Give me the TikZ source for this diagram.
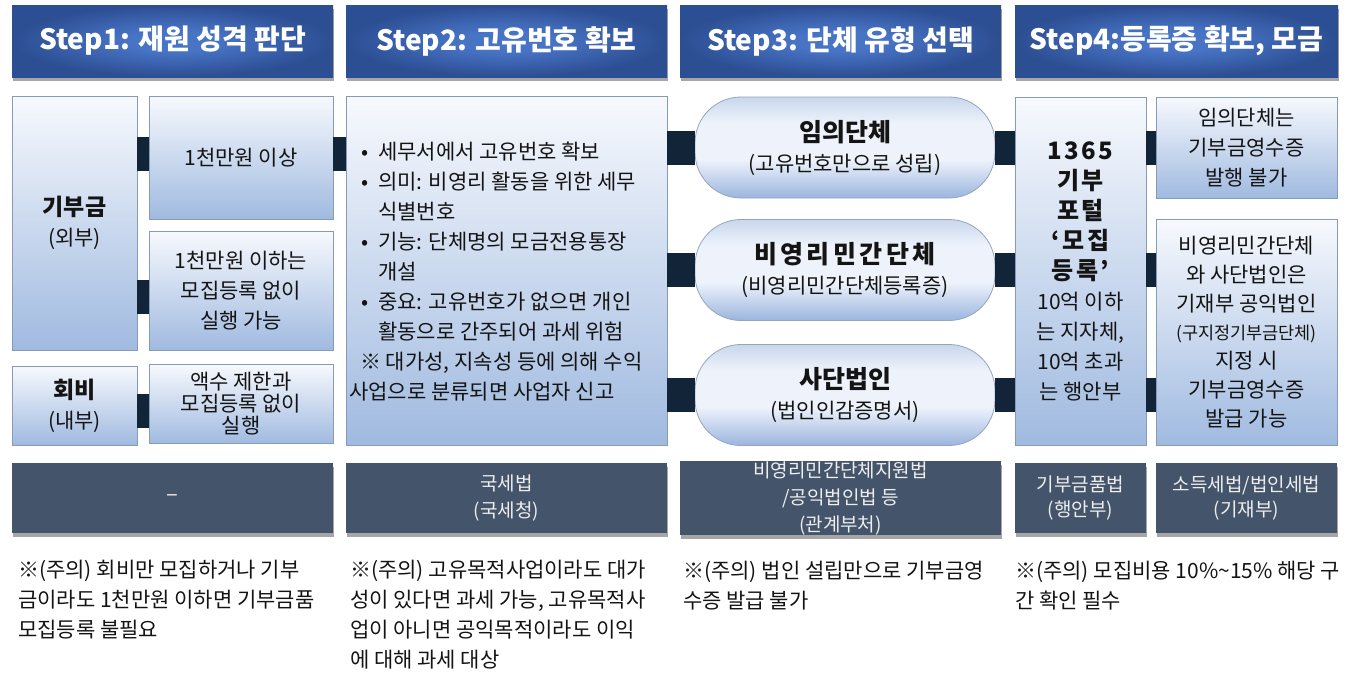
\documentclass[tikz,border=0pt]{standalone}
\usepackage{fontspec}
\setmainfont{Noto Sans CJK KR}
\usetikzlibrary{shadows}
\definecolor{hdrC}{RGB}{72,116,198}
\definecolor{hdrE}{RGB}{44,78,146}
\definecolor{boxT}{RGB}{247,249,253}
\definecolor{boxB}{RGB}{160,186,224}
\definecolor{boxBd}{RGB}{135,155,185}
\definecolor{pillT}{RGB}{200,215,237}
\definecolor{pillM}{RGB}{238,243,251}
\definecolor{pillB}{RGB}{155,181,222}
\definecolor{pillBd}{RGB}{150,165,190}
\definecolor{slate}{RGB}{68,84,106}
\definecolor{connC}{RGB}{18,36,56}
\definecolor{lightT}{RGB}{238,238,238}
\definecolor{txt}{RGB}{20,20,20}
\pgfdeclareradialshading{hdrshade}{\pgfpoint{0bp}{0bp}}{color(0bp)=(hdrC); color(7bp)=(hdrC); color(25bp)=(hdrE); color(50bp)=(hdrE)}
\pgfdeclareverticalshading{pillshade}{100bp}{color(0bp)=(pillB); color(25bp)=(pillB); color(44bp)=(pillM); color(62bp)=(pillM); color(75bp)=(pillT); color(100bp)=(pillT)}
\newcommand{\pbold}{\fontsize{24}{30}\selectfont\bfseries\addfontfeatures{LetterSpace=10}}
\newcommand{\tbold}{\fontsize{23}{30}\selectfont\bfseries}
\newcommand{\pilltitle}{\fontsize{25}{31}\selectfont\bfseries}
\begin{document}
\begin{tikzpicture}[x=1pt,y=-1pt,
 hdr/.style={shading=hdrshade, drop shadow={shadow xshift=1pt,shadow yshift=-4pt,fill=black,opacity=0.35}, minimum width=321pt, minimum height=72pt, inner sep=0pt, text=white, font=\fontsize{28}{32}\selectfont\bfseries},
 lbox/.style={draw=boxBd, line width=0.8pt, top color=boxT, bottom color=boxB, inner sep=0pt, align=center, text=txt, font=\fontsize{21}{30}\selectfont},
 pillbox/.style={draw=pillBd, line width=0.8pt, shading=pillshade, rounded corners=46pt, minimum width=300pt, minimum height=101pt, inner sep=0pt, align=center, text=txt, font=\fontsize{21}{30}\selectfont},
 dbox/.style={fill=slate, drop shadow={shadow xshift=1pt,shadow yshift=-4pt,fill=black,opacity=0.35}, minimum height=70pt, inner sep=0pt, align=center, text=lightT, font=\fontsize{19}{27}\selectfont},
 conn/.style={draw=connC, line width=34pt},
 note/.style={anchor=west, align=left, inner sep=0pt, text=txt, font=\fontsize{21}{30}\selectfont}]
\useasboundingbox (0,0) rectangle (1358,689);
\fill[white] (0,0) rectangle (1358,689);
% headers
\node[hdr] (h1) at (172.5,41) {Step1: 재원 성격 판단};
\node[hdr] (h2) at (506.5,41) {Step2: 고유번호 확보};
\node[hdr] (h3) at (840.5,41) {Step3: 단체 유형 선택};
\node[hdr,minimum width=323pt] (h4) at (1176.5,41) {Step4:등록증 확보, 모금};
% column 1
\node[lbox, minimum width=125pt, minimum height=254pt] (gibu) at (74.5,223) {{\tbold 기부금}\\(외부)};
\node[lbox, minimum width=184pt, minimum height=123pt] (c1a) at (241,157.5) {1천만원 이상};
\node[lbox, minimum width=184pt, minimum height=119pt] (c1b) at (241,290.5) {1천만원 이하는\\모집등록 없이\\실행 가능};
\node[lbox, minimum width=125pt, minimum height=79pt] (hoebi) at (74.5,405.5) {{\tbold 회비}\\(내부)};
\node[lbox, minimum width=184pt, minimum height=79pt, font=\fontsize{21}{22}\selectfont] (aek) at (241,404) {액수 제한과\\모집등록 없이\\실행};
% column 2
\node[lbox, minimum width=321pt, minimum height=349pt] (s2) at (506.5,270.5) {};
\node[note] (s2t) at (349,272) {\hspace*{12pt}\makebox[17pt][l]{•}세무서에서 고유번호 확보\\
\hspace*{12pt}\makebox[17pt][l]{•}의미: 비영리 활동을 위한 세무\\
\hspace*{29pt}식별번호\\
\hspace*{12pt}\makebox[17pt][l]{•}기능: 단체명의 모금전용통장\\
\hspace*{29pt}개설\\
\hspace*{12pt}\makebox[17pt][l]{•}중요: 고유번호가 없으면 개인\\
\hspace*{29pt}활동으로 간주되어 과세 위험\\
\hspace*{11pt}※ 대가성, 지속성 등에 의해 수익\\
사업으로 분류되면 사업자 신고};
% column 3
\node[pillbox] (pa) at (845,147.5) {{\pilltitle 임의단체}\\(고유번호만으로 성립)};
\node[pillbox] (pb) at (845,270) {{\pilltitle\addfontfeatures{LetterSpace=14}비영리민간단체}\\(비영리민간단체등록증)};
\node[pillbox] (pc) at (845,395) {{\pilltitle 사단법인}\\(법인인감증명서)};
% column 4
\node[lbox, minimum width=131pt, minimum height=348pt] (p4) at (1080.5,271) {{\pbold 1365}\\{\pbold 기부}\\{\pbold 포털}\\{\pbold ‘모집}\\{\pbold 등록’}\\10억 이하\\는 지자체,\\10억 초과\\는 행안부};
\node[lbox, minimum width=181pt, minimum height=101pt] (r1) at (1246.5,147.5) {임의단체는\\기부금영수증\\발행 불가};
\node[lbox, minimum width=181pt, minimum height=226pt, font=\fontsize{21}{28.8}\selectfont] (r2) at (1246.5,332) {비영리민간단체\\와 사단법인은\\기재부 공익법인\\{\fontsize{17.5}{26}\selectfont (구지정기부금단체)}\\지정 시\\기부금영수증\\발급 가능};
% bottom row
\node[dbox, minimum width=321pt, font=\fontsize{22}{27}\selectfont] (b1) at (172.5,498) {–};
\node[dbox, minimum width=321pt] (b2) at (506.5,498) {국세법\\(국세청)};
\node[dbox, minimum width=321pt] (b3) at (840.5,498) {비영리민간단체지원법\\/공익법인법 등\\(관계부처)};
\node[dbox, minimum width=131pt, font=\fontsize{19}{25}\selectfont] (b4a) at (1080.5,498) {기부금품법\\(행안부)};
\node[dbox, minimum width=181pt, font=\fontsize{19}{25}\selectfont] (b4b) at (1246.5,498) {소득세법/법인세법\\(기재부)};
% notes
\node[note] (n1) at (18,600) {※(주의) 회비만 모집하거나 기부\\금이라도 1천만원 이하면 기부금품\\모집등록 불필요};
\node[note] (n2) at (350,615) {※(주의) 고유목적사업이라도 대가\\성이 있다면 과세 가능, 고유목적사\\업이 아니면 공익목적이라도 이익\\에 대해 과세 대상};
\node[note] (n3) at (683,585.5) {※(주의) 법인 설립만으로 기부금영\\수증 발급 불가};
\node[note] (n4) at (1015,585.5) {※(주의) 모집비용 10\%\textasciitilde 15\% 해당 구\\간 확인 필수};
% connectors
\draw[conn] ([yshift=4pt]c1a.west -| gibu.east) -- ([yshift=4pt]c1a.west);
\draw[conn] ([yshift=-6pt]c1b.west -| gibu.east) -- ([yshift=-6pt]c1b.west);
\draw[conn] ([yshift=-5pt]hoebi.east) -- ([yshift=-5pt]hoebi.east -| aek.west);
\draw[conn] ([yshift=4pt]c1a.east) -- ([yshift=4pt]c1a.east -| s2.west);
\draw[conn] (pa.west -| s2.east) -- (pa.west);
\draw[conn] (pb.west -| s2.east) -- (pb.west);
\draw[conn] (pc.west -| s2.east) -- (pc.west);
\draw[conn] (pa.east) -- (pa.east -| p4.west);
\draw[conn] (pb.east) -- (pb.east -| p4.west);
\draw[conn] (pc.east) -- (pc.east -| p4.west);
\draw[conn] (pa.east -| p4.east) -- (pa.east -| r1.west);
\draw[conn] (pb.east -| p4.east) -- (pb.east -| r2.west);
\draw[conn] (pc.east -| p4.east) -- (pc.east -| r2.west);
\end{tikzpicture}
\end{document}
